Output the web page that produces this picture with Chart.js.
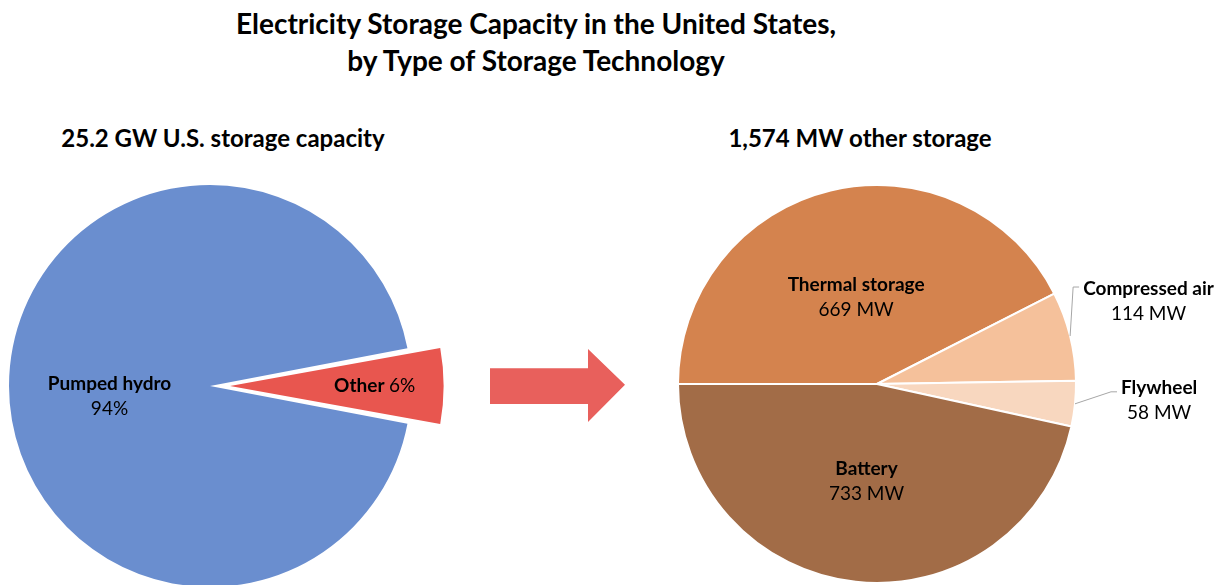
<!DOCTYPE html>
<html>
<head>
<meta charset="utf-8">
<script src="https://cdn.jsdelivr.net/npm/chart.js@4.4.0/dist/chart.umd.min.js"></script>
<style>
    html, body { margin: 0; padding: 0; background: #fff; overflow: hidden; }
    body { width: 1217px; height: 585px; position: relative; font-family: Lato, 'Open Sans', sans-serif; color: #000; }
    .title { position: absolute; left: 0; width: 1072px; text-align: center; font-weight: bold; font-size: 28px; line-height: 32px; }
    .sub { position: absolute; font-weight: bold; font-size: 24px; line-height: 30px; white-space: nowrap; transform: translateX(-50%); }
    canvas { position: absolute; }
    #arrow {
        position: absolute; left: 490px; top: 349px; width: 135px; height: 73px; background: #E8605C;
        clip-path: polygon(0 26.5%, 72.6% 26.5%, 72.6% 0, 100% 49%, 72.6% 100%, 72.6% 75.5%, 0 75.5%);
    }
</style>
</head>
<body>
<div class="title" style="top:7px">Electricity Storage Capacity in the United States,</div>
<div class="title" style="top:44px">by Type of Storage Technology</div>
<div class="sub" style="left:223px; top:123px">25.2 GW U.S. storage capacity</div>
<div class="sub" style="left:860px; top:123px">1,574 MW other storage</div>
<canvas id="canvasAll" width="480" height="572" style="left:0; top:100px"></canvas>
<div id="arrow"></div>
<canvas id="canvasOther" width="557" height="448" style="left:660px; top:160px"></canvas>
<script>
'use strict';

// left pie: share of total US storage capacity (%)
var hydroLabels = ['Pumped hydro', 'Other'];
var hydroShares = [94, 6];
var hydroColors = ['#6A8ECF', '#E8564F'];

// right pie: breakdown of the "other" storage (MW)
var otherLabels = ['Thermal storage', 'Compressed air', 'Flywheel', 'Battery'];
var otherMW = [669, 114, 58, 733];
var otherColors = ['#D4834E', '#F5C19B', '#F8D7BF', '#A26C47'];

const FONT = 'Lato, "Open Sans", sans-serif';
const FS = 19;

// draws the slice labels (inside, or outside with a leader line)
const sliceLabels = {
    id: 'sliceLabels',
    afterDatasetsDraw(chart, args, opts) {
        const ctx = chart.ctx;
        const meta = chart.getDatasetMeta(0);
        ctx.save();
        ctx.textBaseline = 'middle';
        ctx.fillStyle = '#000';
        meta.data.forEach((arc, i) => {
            const it = opts.items[i];
            if (!it) return;
            const p = arc.getProps(['x', 'y', 'startAngle', 'endAngle', 'outerRadius'], true);
            const mid = (p.startAngle + p.endAngle) / 2;
            const cos = Math.cos(mid), sin = Math.sin(mid);
            const shift = (arc.options.offset || 0) / 4;
            if (it.mode === 'inside') {
                const d = shift + p.outerRadius * it.r;
                const x = p.x + cos * d, y = p.y + sin * d + (it.dy || 0);
                if (it.inline) {
                    ctx.font = 'bold ' + FS + 'px ' + FONT;
                    const w1 = ctx.measureText(it.name + ' ').width;
                    ctx.font = FS + 'px ' + FONT;
                    const w2 = ctx.measureText(it.value).width;
                    const x0 = x - (w1 + w2) / 2;
                    ctx.textAlign = 'left';
                    ctx.font = 'bold ' + FS + 'px ' + FONT;
                    ctx.fillText(it.name, x0, y);
                    ctx.font = FS + 'px ' + FONT;
                    ctx.fillText(it.value, x0 + w1, y);
                } else {
                    ctx.textAlign = 'center';
                    ctx.font = 'bold ' + FS + 'px ' + FONT;
                    ctx.fillText(it.name, x, y - 12.5);
                    ctx.font = FS + 'px ' + FONT;
                    ctx.fillText(it.value, x, y + 12.5);
                }
            } else {
                const ex = p.x + cos * p.outerRadius, ey = p.y + sin * p.outerRadius;
                const bx = ex + it.elbow[0], by = ey + it.elbow[1];
                ctx.strokeStyle = '#A6A6A6';
                ctx.lineWidth = 1;
                ctx.beginPath();
                ctx.moveTo(ex, ey);
                ctx.lineTo(bx, by);
                ctx.lineTo(bx + 6, by);
                ctx.stroke();
                ctx.font = 'bold ' + FS + 'px ' + FONT;
                const w = ctx.measureText(it.name).width;
                const tx = bx + 10 + w / 2;
                const ty = by + it.textDy;
                ctx.textAlign = 'center';
                ctx.fillText(it.name, tx, ty);
                ctx.font = FS + 'px ' + FONT;
                ctx.fillText(it.value, tx, ty + 25);
            }
        });
        ctx.restore();
    }
};

const config_1 = {
    type: 'pie',
    data: {
        labels: hydroLabels,
        datasets: [{
            data: hydroShares,
            backgroundColor: hydroColors,
            borderWidth: 0,
            offset: [0, 80]
        }]
    },
    options: {
        responsive: false,
        animation: false,
        radius: 201,
        rotation: 90 + 180 * hydroShares[1] / 100,
        layout: { padding: { right: 60 } },
        plugins: {
            legend: { display: false },
            tooltip: { enabled: false },
            sliceLabels: {
                items: [
                    { mode: 'inside', r: 0.5, dy: 10, name: hydroLabels[0], value: hydroShares[0] + '%' },
                    { mode: 'inside', r: 0.72, inline: true, name: hydroLabels[1], value: hydroShares[1] + '%' }
                ]
            }
        }
    },
    plugins: [sliceLabels]
};

const config_2 = {
    type: 'pie',
    data: {
        labels: otherLabels,
        datasets: [{
            data: otherMW,
            backgroundColor: otherColors,
            borderColor: '#ffffff',
            borderWidth: 2
        }]
    },
    options: {
        responsive: false,
        animation: false,
        radius: 199,
        rotation: 270,
        layout: { padding: { right: 123 } },
        plugins: {
            legend: { display: false },
            tooltip: { enabled: false },
            sliceLabels: {
                items: [
                    { mode: 'inside', r: 0.45, name: otherLabels[0], value: otherMW[0] + ' MW' },
                    { mode: 'outside', elbow: [3, -49], textDy: 2, name: otherLabels[1], value: otherMW[1] + ' MW' },
                    { mode: 'outside', elbow: [36, -12], textDy: -4, name: otherLabels[2], value: otherMW[2] + ' MW' },
                    { mode: 'inside', r: 0.49, name: otherLabels[3], value: otherMW[3] + ' MW' }
                ]
            }
        }
    },
    plugins: [sliceLabels]
};

let chart_1 = new Chart(document.querySelector('#canvasAll').getContext('2d'), config_1);
let chart_2 = new Chart(document.querySelector('#canvasOther').getContext('2d'), config_2);
</script>
</body>
</html>
